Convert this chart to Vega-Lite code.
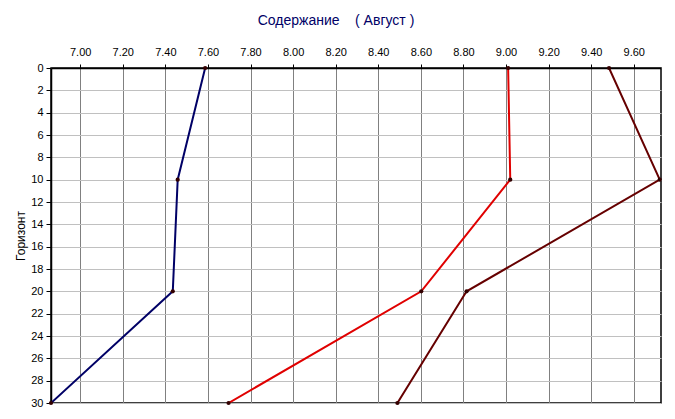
{
  "$schema": "https://vega.github.io/schema/vega-lite/v6.json",
  "width": 610,
  "height": 335,
  "autosize": {"type": "none"},
  "padding": {"left": 51, "top": 68, "right": 14, "bottom": 16},
  "background": "white",
  "config": {
    "font": "Liberation Sans",
    "view": {"stroke": "black", "strokeWidth": 1.5, "strokeOpacity": 1}
  },
  "title": {
    "text": "Содержание\u00a0\u00a0\u00a0\u00a0( Август )",
    "color": "#000066",
    "fontSize": 14,
    "fontWeight": "normal",
    "font": "Liberation Sans",
    "anchor": "middle",
    "dx": -20,
    "offset": 18
  },
  "data": {
    "values": [
      {"series": "A", "depth": 0, "value": 7.587},
      {"series": "A", "depth": 10, "value": 7.458},
      {"series": "A", "depth": 20, "value": 7.435},
      {"series": "A", "depth": 30, "value": 6.863},
      {"series": "B", "depth": 0, "value": 9.01},
      {"series": "B", "depth": 10, "value": 9.02},
      {"series": "B", "depth": 20, "value": 8.602},
      {"series": "B", "depth": 30, "value": 7.697},
      {"series": "C", "depth": 0, "value": 9.484},
      {"series": "C", "depth": 10, "value": 9.722},
      {"series": "C", "depth": 20, "value": 8.815},
      {"series": "C", "depth": 30, "value": 8.49}
    ]
  },
  "encoding": {
    "x": {
      "field": "value",
      "type": "quantitative",
      "scale": {"domain": [6.863, 9.728], "nice": false, "zero": false},
      "axis": {
        "orient": "top",
        "title": null,
        "values": [7.0, 7.2, 7.4, 7.6, 7.8, 8.0, 8.2, 8.4, 8.6, 8.8, 9.0, 9.2, 9.4, 9.6],
        "format": ".2f",
        "labelFont": "Liberation Sans",
        "labelFontSize": 11,
        "labelColor": "black",
        "labelPadding": 7,
        "tickSize": 4,
        "tickColor": "black",
        "domain": true,
        "domainColor": "black",
        "domainWidth": 1.5,
        "grid": true,
        "gridColor": "#808080",
        "gridWidth": 1,
        "gridOpacity": 1
      }
    },
    "y": {
      "field": "depth",
      "type": "quantitative",
      "scale": {"domain": [0, 30], "reverse": true, "nice": false},
      "axis": {
        "title": "Горизонт",
        "titleFont": "Liberation Sans",
        "titleFontSize": 12,
        "titleFontWeight": "normal",
        "titleColor": "black",
        "titlePadding": 3,
        "values": [0, 2, 4, 6, 8, 10, 12, 14, 16, 18, 20, 22, 24, 26, 28, 30],
        "labelFont": "Liberation Sans",
        "labelFontSize": 11,
        "labelColor": "black",
        "labelPadding": 3,
        "tickSize": 5,
        "tickColor": "black",
        "domain": true,
        "domainColor": "black",
        "domainWidth": 1.5,
        "grid": true,
        "gridColor": "#c0c0c0",
        "gridWidth": 1,
        "gridOpacity": 1
      }
    },
    "color": {
      "field": "series",
      "type": "nominal",
      "scale": {"domain": ["A", "B", "C"], "range": ["#000066", "#e00000", "#660000"]},
      "legend": null
    },
    "detail": {"field": "series"}
  },
  "layer": [
    {
      "mark": {"type": "line", "strokeWidth": 2, "clip": true},
      "encoding": {
        "order": {"field": "depth"},
        "strokeWidth": {
          "field": "series",
          "type": "nominal",
          "scale": {"domain": ["A", "B", "C"], "range": [2, 2, 1.6]},
          "legend": null
        }
      }
    },
    {
      "mark": {"type": "point", "filled": true, "size": 18, "opacity": 1, "clip": false},
      "encoding": {
        "color": {"value": "#330000"}
      }
    }
  ]
}
